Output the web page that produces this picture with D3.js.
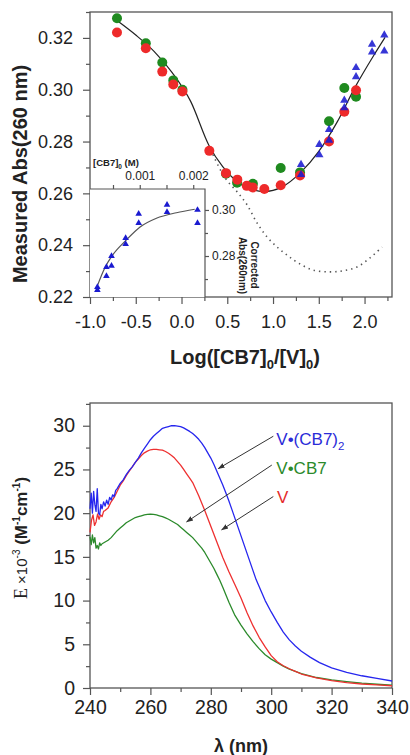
<!DOCTYPE html>
<html><head><meta charset="utf-8">
<script src="https://cdn.jsdelivr.net/npm/d3@7"></script>
<style>
html,body{margin:0;padding:0;background:#fff;}
svg{display:block;font-family:"Liberation Sans",Arial,sans-serif;}
</style>
</head><body>
<svg id="c" width="410" height="755"></svg>
<script>
// ---------------- DATA ----------------
// Top panel: Measured Abs(260 nm) vs Log([CB7]0/[V]0)
const greenLogR = [-0.705,-0.39,-0.21,-0.09,0.01,0.486,0.607,0.78,1.084,1.295,1.612,1.779,1.907];
const greenAbs  = [0.3276,0.3179,0.3105,0.3036,0.3000,0.2676,0.2641,0.2637,0.2698,0.2681,0.2878,0.3007,0.2973];
const redLogR   = [-0.705,-0.39,-0.21,-0.09,0.01,0.304,0.486,0.61,0.713,0.778,0.905,1.084,1.295,1.612,1.779,1.907];
const redAbs    = [0.3221,0.3160,0.3070,0.3020,0.2993,0.2764,0.2678,0.2653,0.2629,0.2623,0.2617,0.2631,0.2669,0.2800,0.2915,0.2998];
const blueLogR  = [1.306,1.306,1.506,1.506,1.612,1.612,1.779,1.779,1.907,1.907,2.082,2.082,2.216,2.216];
const blueAbs   = [0.2711,0.2672,0.2788,0.2749,0.2846,0.2805,0.2959,0.2930,0.3085,0.3050,0.3175,0.3145,0.3211,0.3149];
// solid fit curve
const fitLogR = [-0.694,-0.5,-0.3,-0.1,0.1,0.3,0.45,0.6,0.75,0.9,1.1,1.3,1.5,1.7,1.9,2.1,2.224];
const fitAbs  = [0.3264,0.3211,0.3148,0.3065,0.2955,0.2785,0.2703,0.2647,0.2617,0.2607,0.2625,0.2680,0.2762,0.2875,0.3012,0.3132,0.3202];
// dotted curve
const dotLogR = [0.344,0.475,0.617,0.716,0.825,0.934,1.044,1.153,1.273,1.437,1.623,1.765,1.918,2.060,2.191];
const dotAbs  = [0.2749,0.2660,0.2602,0.2556,0.2486,0.2432,0.2393,0.2362,0.2332,0.2304,0.2297,0.2301,0.2316,0.2351,0.2393];
// inset: Corrected Abs(260nm) vs [CB7]0 (M)
const insetConc = [0.000208,0.000208,0.000377,0.000377,0.000472,0.000472,0.000736,0.000736,0.00098,0.00098,0.00151,0.00151,0.00208,0.00208];
const insetAbs  = [0.2665,0.2652,0.2752,0.2713,0.2800,0.2757,0.2878,0.2852,0.2983,0.2943,0.3022,0.2991,0.3000,0.2943];
const insetFitConc = [0.000202,0.000346,0.000471,0.000751,0.001,0.001312,0.001686,0.002028];
const insetFitAbs  = [0.2667,0.2748,0.2797,0.2870,0.2925,0.2964,0.2988,0.3003];
// tick labels
const topXTicks = [-1.0,-0.5,0.0,0.5,1.0,1.5,2.0];
const topYTicks = [0.22,0.24,0.26,0.28,0.30,0.32];
const insetXTicks = [0.001,0.002];
const insetYTicks = [0.28,0.30];
const botXTicks = [240,260,280,300,320,340];
const botYTicks = [0,5,10,15,20,25,30];

// Bottom panel: E x10^-3 (M^-1 cm^-1) vs lambda (nm)
const blueWl = [240,240.4,240.8,241.2,241.6,242,242.4,242.8,243.2,243.6,244,244.5,245,245.5,246,246.5,247,247.5,248,248.5,249,250,251,252,253,254,255,256,257,258,259,260,261,262,263,264,265,266,267,268,269,270,271,272,273,274,275,276,277,278,279,280,281,282,283,284,285,286,287,288,289,290,291,292,293,294,295,296,297,298,300,302,304,306,308,310,313,316,320,325,330,335,340];
const blueEps = [20.5,22.3,20.0,22.5,21.0,20.2,22.8,20.0,19.8,21.0,20.5,21.3,20.8,21.5,21.0,21.8,21.5,22.1,21.9,22.6,22.8,23.4,23.8,24.4,24.9,25.3,25.8,26.3,26.9,27.4,27.9,28.4,28.8,29.1,29.4,29.7,29.8,29.9,30.0,30.0,29.95,29.9,29.75,29.55,29.35,29.1,28.8,28.45,28.0,27.5,26.9,26.3,25.6,24.8,24.0,23.2,22.3,21.4,20.4,19.4,18.4,17.4,16.4,15.4,14.4,13.4,12.4,11.6,10.8,10.0,8.7,7.5,6.4,5.5,4.8,4.2,3.5,2.9,2.3,1.8,1.4,1.1,0.8];
const redWl = [240,240.5,241,241.5,242,242.5,243,243.5,244,244.5,245,246,247,248,249,250,251,252,253,254,255,256,257,258,259,260,261,262,263,264,265,266,267,268,269,270,271,272,273,274,276,278,280,282,284,286,288,290,292,294,296,298,300,302,304,306,308,310,315,320,325,330,335,340];
const redEps = [17.8,19.2,19.8,18.6,19.0,19.9,19.3,19.8,19.6,20.2,20.3,20.6,21.3,21.8,22.5,23.2,23.7,24.3,24.8,25.3,25.8,26.2,26.6,26.9,27.1,27.25,27.3,27.3,27.25,27.2,27.05,26.85,26.6,26.3,25.9,25.5,25.0,24.5,24.0,23.5,22.0,20.3,18.5,16.7,14.9,13.3,11.8,10.3,8.6,7.1,5.8,4.7,3.7,3.0,2.55,2.2,1.9,1.6,1.15,0.85,0.62,0.46,0.35,0.26];
const greenWl = [240,240.4,240.8,241.2,241.6,242,242.4,242.8,243.2,243.6,244,245,246,247,248,249,250,251,252,253,254,255,256,257,258,259,260,261,262,263,264,265,266,267,268,269,270,271,272,273,274,275,276,277,278,279,280,281,282,283,284,286,288,290,292,294,296,298,300,302,304,306,308,310,315,320,325,330,335,340];
const greenEps = [17.3,16.4,17.5,16.6,17.2,16.0,16.3,15.9,16.6,16.3,16.5,16.7,16.9,17.2,17.6,18.0,18.3,18.6,18.9,19.1,19.3,19.5,19.6,19.7,19.8,19.85,19.9,19.85,19.8,19.7,19.6,19.45,19.3,19.1,18.9,18.7,18.4,18.1,17.8,17.5,17.2,16.8,16.4,16.0,15.5,14.9,14.3,13.7,13.0,12.3,11.5,9.8,8.3,7.2,6.2,5.3,4.5,3.8,3.3,2.9,2.5,2.15,1.9,1.65,1.2,0.92,0.72,0.55,0.43,0.32];
// annotations (data units: [lambda, eps])
const labelNames = ["V\u2022(CB7)", "V\u2022CB7", "V"];
const labelAt = [[301.7,27.8],[301.7,24.5],[301.9,21.2]];
const arrowFrom = [[300.7,28.8],[300.2,25.5],[300.7,21.9]];
const arrowTo   = [[282.5,25.1],[272.0,19.0],[283.6,18.1]];

// ---------------- DRAWING ----------------
const svg = d3.select("#c");
const AX = "#555";
const defs = svg.append("defs");
defs.append("marker").attr("id","ah").attr("viewBox","0 0 10 10")
  .attr("refX",9).attr("refY",5).attr("markerWidth",7).attr("markerHeight",7)
  .attr("orient","auto").append("path").attr("d","M0,1.5L10,5L0,8.5Z").attr("fill","#333");

function styleAxis(g, fs){
  g.select(".domain").remove();
  g.selectAll(".tick line").attr("stroke",AX).attr("stroke-width",1.2);
  g.selectAll(".tick text").attr("fill","#222").style("font-size",fs+"px").style("font-family","'Liberation Sans',Arial,sans-serif");
}
function seq(a,b,s){const r=[];for(let v=a;v<=b+1e-9;v+=s)r.push(+v.toFixed(6));return r;}

// ===== Top panel =====
const x1 = d3.scaleLinear().domain([-1.0,2.3]).range([90,392]);
const y1 = d3.scaleLinear().domain([0.22,0.33]).range([297,12]);
const topG = svg.append("g");

topG.append("g").attr("transform","translate(0,297)")
  .call(d3.axisBottom(x1).tickValues(seq(-0.75,2.25,0.5)).tickSize(4).tickFormat(""))
  .call(g=>styleAxis(g,18));
topG.append("g").attr("transform","translate(0,297)")
  .call(d3.axisBottom(x1).tickValues(topXTicks).tickSize(7).tickPadding(11).tickFormat(d=>d.toFixed(1)))
  .call(g=>styleAxis(g,18));
topG.append("g").attr("transform","translate(90,0)")
  .call(d3.axisLeft(y1).tickValues(seq(0.23,0.33,0.02)).tickSize(4).tickFormat(""))
  .call(g=>styleAxis(g,18));
topG.append("g").attr("transform","translate(90,0)")
  .call(d3.axisLeft(y1).tickValues(topYTicks).tickSize(7).tickPadding(10).tickFormat(d=>d.toFixed(2)))
  .call(g=>styleAxis(g,18));

// dotted curve
topG.append("path").datum(dotLogR.map((d,i)=>[d,dotAbs[i]]))
  .attr("d",d3.line().x(d=>x1(d[0])).y(d=>y1(d[1])).curve(d3.curveCatmullRom))
  .attr("fill","none").attr("stroke","#555").attr("stroke-width",1.6)
  .attr("stroke-dasharray","1.4,4");

// inset
const x2 = d3.scaleLinear().domain([0.00007,0.00222]).range([90,205]);
const y2 = d3.scaleLinear().domain([0.2622,0.3091]).range([297,189]);
const ins = svg.append("g");
ins.append("rect").attr("x",90).attr("y",189).attr("width",115).attr("height",108).attr("fill","#fff");
ins.append("path").attr("d","M90,189H205V297").attr("fill","none").attr("stroke",AX).attr("stroke-width",1.2);
ins.append("g").attr("transform","translate(0,189)")
  .call(d3.axisTop(x2).tickValues([0.0005,0.0015]).tickSize(4).tickFormat(""))
  .call(g=>styleAxis(g,12));
ins.append("g").attr("transform","translate(0,189)")
  .call(d3.axisTop(x2).tickValues(insetXTicks).tickSize(4).tickPadding(5).tickFormat(d=>d.toFixed(3)))
  .call(g=>styleAxis(g,12));
ins.append("g").attr("transform","translate(205,0)")
  .call(d3.axisRight(y2).tickValues([0.27,0.29]).tickSize(3).tickFormat(""))
  .call(g=>styleAxis(g,12));
ins.append("g").attr("transform","translate(205,0)")
  .call(d3.axisRight(y2).tickValues(insetYTicks).tickSize(4).tickPadding(3).tickFormat(d=>d.toFixed(2)))
  .call(g=>styleAxis(g,12));
const cbl = ins.append("text").attr("x",93).attr("y",166).attr("font-weight","bold").attr("font-size",9.5).attr("fill","#222");
cbl.append("tspan").text("[CB7]");
cbl.append("tspan").attr("dy",2.5).attr("font-size",6.5).text("0");
cbl.append("tspan").attr("dy",-2.5).text(" (M)");
ins.append("text").attr("transform","translate(251,265) rotate(90)").attr("text-anchor","middle")
  .attr("font-weight","bold").attr("font-size",10).attr("fill","#222").text("Corrected");
ins.append("text").attr("transform","translate(238.5,265.5) rotate(90)").attr("text-anchor","middle")
  .attr("font-weight","bold").attr("font-size",10).attr("fill","#222").text("Abs(260nm)");
ins.append("path").datum(insetFitConc.map((d,i)=>[d,insetFitAbs[i]]))
  .attr("d",d3.line().x(d=>x2(d[0])).y(d=>y2(d[1])).curve(d3.curveMonotoneX))
  .attr("fill","none").attr("stroke","#555").attr("stroke-width",1.2);
ins.selectAll(".it").data(insetConc.map((d,i)=>[d,insetAbs[i]])).enter().append("path")
  .attr("d",d3.symbol().type(d3.symbolTriangle).size(19))
  .attr("transform",d=>`translate(${x2(d[0])},${y2(d[1])})`)
  .attr("fill","#1a1ad0");

// frame
topG.append("rect").attr("x",90).attr("y",12).attr("width",302).attr("height",285)
  .attr("fill","none").attr("stroke",AX).attr("stroke-width",1.3);
const pts = svg.append("g");
// solid fit
pts.append("path").datum(fitLogR.map((d,i)=>[d,fitAbs[i]]))
  .attr("d",d3.line().x(d=>x1(d[0])).y(d=>y1(d[1])).curve(d3.curveMonotoneX))
  .attr("fill","none").attr("stroke","#222").attr("stroke-width",1.2);
// points
pts.selectAll(".g").data(greenLogR.map((d,i)=>[d,greenAbs[i]])).enter().append("circle")
  .attr("cx",d=>x1(d[0])).attr("cy",d=>y1(d[1])).attr("r",5).attr("fill","#1f8a1f");
pts.selectAll(".r").data(redLogR.map((d,i)=>[d,redAbs[i]])).enter().append("circle")
  .attr("cx",d=>x1(d[0])).attr("cy",d=>y1(d[1])).attr("r",5).attr("fill","#ee2a2a");
pts.selectAll(".b").data(blueLogR.map((d,i)=>[d,blueAbs[i]])).enter().append("path")
  .attr("d",d3.symbol().type(d3.symbolTriangle).size(30))
  .attr("transform",d=>`translate(${x1(d[0])},${y1(d[1])})`)
  .attr("fill","#1a1ad0").attr("fill-opacity",0.88);

// titles
svg.append("text").attr("transform","translate(27,174) rotate(-90)").attr("text-anchor","middle")
  .attr("font-weight","bold").attr("font-size",20).attr("fill","#222").text("Measured Abs(260 nm)");
const xt = svg.append("text").attr("x",245).attr("y",364).attr("text-anchor","middle")
  .attr("font-weight","bold").attr("font-size",20).attr("fill","#222");
xt.append("tspan").text("Log([CB7]");
xt.append("tspan").attr("dy",5).attr("font-size",13).text("0");
xt.append("tspan").attr("dy",-5).text("/[V]");
xt.append("tspan").attr("dy",5).attr("font-size",13).text("0");
xt.append("tspan").attr("dy",-5).text(")");

// ===== Bottom panel =====
const x3 = d3.scaleLinear().domain([240,340]).range([90,392]);
const y3 = d3.scaleLinear().domain([0,32.6]).range([688,403]);
const bot = svg.append("g");
bot.append("g").attr("transform","translate(0,688)")
  .call(d3.axisBottom(x3).tickValues(seq(250,330,20)).tickSize(4).tickFormat(""))
  .call(g=>styleAxis(g,19.5));
bot.append("g").attr("transform","translate(0,688)")
  .call(d3.axisBottom(x3).tickValues(botXTicks).tickSize(7).tickPadding(5).tickFormat(d3.format("d")))
  .call(g=>styleAxis(g,19.5));
bot.append("g").attr("transform","translate(90,0)")
  .call(d3.axisLeft(y3).tickValues(seq(2.5,32.5,5)).tickSize(4).tickFormat(""))
  .call(g=>styleAxis(g,19.5));
bot.append("g").attr("transform","translate(90,0)")
  .call(d3.axisLeft(y3).tickValues(botYTicks).tickSize(7).tickPadding(8).tickFormat(d3.format("d")))
  .call(g=>styleAxis(g,19.5));
bot.append("rect").attr("x",90).attr("y",403).attr("width",302).attr("height",285)
  .attr("fill","none").attr("stroke",AX).attr("stroke-width",1.3);

const specLine = d3.line().x(d=>x3(d[0])).y(d=>y3(d[1]));
const series = [
  {wl:greenWl, v:greenEps, c:"#2b8a2b"},
  {wl:redWl, v:redEps, c:"#ee3030"},
  {wl:blueWl, v:blueEps, c:"#2626ee"}
];
series.forEach(s=>{
  bot.append("path").datum(s.wl.map((d,i)=>[d,s.v[i]])).attr("d",specLine)
    .attr("fill","none").attr("stroke",s.c).attr("stroke-width",1.3).attr("stroke-linejoin","round");
});

// annotations
const labelColors = ["#2b2bd8","#2b8a2b","#e52b2b"];
labelNames.forEach((n,i)=>{
  const t = bot.append("text").attr("x",x3(labelAt[i][0])).attr("y",y3(labelAt[i][1]))
    .attr("font-size",17).attr("fill",labelColors[i]).text(n);
  if(i===0) t.append("tspan").attr("dy",5).attr("font-size",11.5).text("2");
  bot.append("line").attr("x1",x3(arrowFrom[i][0])).attr("y1",y3(arrowFrom[i][1]))
    .attr("x2",x3(arrowTo[i][0])).attr("y2",y3(arrowTo[i][1]))
    .attr("stroke","#333").attr("stroke-width",1).attr("marker-end","url(#ah)");
});

// titles
const yt = svg.append("text").attr("transform","translate(27,538) rotate(-90)").attr("text-anchor","middle")
  .attr("font-size",17).attr("fill","#222");
yt.append("tspan").attr("font-family","'Liberation Serif','Times New Roman',serif").attr("font-size",18).text("E");
yt.append("tspan").attr("font-size",15).text(" \u00d710");
yt.append("tspan").attr("dy",-7).attr("font-size",10).text("-3");
yt.append("tspan").attr("dy",7).attr("font-weight","bold").text(" (M");
yt.append("tspan").attr("dy",-7).attr("font-size",10).attr("font-weight","bold").text("-1");
yt.append("tspan").attr("dy",7).attr("font-weight","bold").text("cm");
yt.append("tspan").attr("dy",-7).attr("font-size",10).attr("font-weight","bold").text("-1");
yt.append("tspan").attr("dy",7).attr("font-weight","bold").text(")");

svg.append("text").attr("x",241).attr("y",752).attr("text-anchor","middle")
  .attr("font-weight","bold").attr("font-size",18).attr("fill","#222").text("\u03bb (nm)");
</script>
</body></html>
